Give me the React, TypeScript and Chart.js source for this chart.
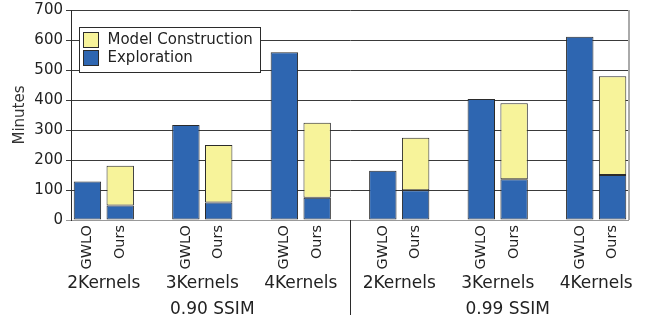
import { useEffect, useRef } from 'react';
import { Chart, registerables } from 'chart.js';

Chart.register(...registerables);

const FONT = "'DejaVu Sans', sans-serif";

// Minutes spent per configuration
const kernelGroups = ['2Kernels', '3Kernels', '4Kernels'];
const ssimLevels = ['0.90 SSIM', '0.99 SSIM'];
const methods = ['GWLO', 'Ours'];
const gwloExploration = [128, 317, 559, 164, 403, 611];
const oursExploration = [48, 58, 74, 99, 136, 150];
const oursModelConstruction = [133, 192, 250, 175, 253, 329];
const yTickValues = [0, 100, 200, 300, 400, 500, 600, 700];

const BLUE = '#2e66b1';
const YELLOW = '#f7f39a';
const EDGE = '#2b2b2b';

// One slot per bar, plus an empty slot between neighbouring kernel groups
const labels: string[] = [];
const explorationData: (number | null)[] = [];
const modelData: (number | null)[] = [];
const groupCount = ssimLevels.length * kernelGroups.length;
for (let g = 0; g < groupCount; g++) {
  labels.push(methods[0], methods[1]);
  explorationData.push(gwloExploration[g], oursExploration[g]);
  modelData.push(null, oursModelConstruction[g]);
  if (g < groupCount - 1) {
    labels.push('');
    explorationData.push(null);
    modelData.push(null);
  }
}

const decorations = {
  id: 'decorations',
  afterDraw(chart: any) {
    const ctx: CanvasRenderingContext2D = chart.ctx;
    const xs = chart.scales.x;
    const { left, right, top, bottom } = chart.chartArea;
    ctx.save();

    // right frame edge
    ctx.strokeStyle = '#aaaaaa';
    ctx.lineWidth = 2;
    ctx.beginPath();
    ctx.moveTo(right, top);
    ctx.lineTo(right, bottom);
    ctx.stroke();

    // kernel group labels
    ctx.fillStyle = '#222';
    ctx.font = `17px ${FONT}`;
    ctx.textAlign = 'center';
    ctx.textBaseline = 'middle';
    for (let g = 0; g < groupCount; g++) {
      const i = g * 3;
      const cx = (xs.getPixelForValue(i) + xs.getPixelForValue(i + 1)) / 2;
      ctx.fillText(kernelGroups[g % kernelGroups.length], cx, 284);
    }

    // SSIM level labels
    for (let s = 0; s < ssimLevels.length; s++) {
      const mid = (s * kernelGroups.length + 1) * 3;
      const cx = (xs.getPixelForValue(mid) + xs.getPixelForValue(mid + 1)) / 2 + 10;
      ctx.fillText(ssimLevels[s], cx, 310);
    }

    // separator between SSIM levels
    const sepIndex = kernelGroups.length * 3 - 1;
    const sx = Math.round(xs.getPixelForValue(sepIndex)) + 0.5;
    ctx.strokeStyle = EDGE;
    ctx.lineWidth = 1;
    ctx.beginPath();
    ctx.moveTo(sx, bottom);
    ctx.lineTo(sx, 315);
    ctx.stroke();

    // legend box
    const items = [...chart.data.datasets].reverse();
    const bx = left + 8.5;
    const by = top + 17.5;
    ctx.fillStyle = '#ffffff';
    ctx.fillRect(bx, by, 181, 45);
    ctx.strokeStyle = EDGE;
    ctx.strokeRect(bx, by, 181, 45);
    ctx.font = `15px ${FONT}`;
    ctx.textAlign = 'left';
    items.forEach((ds: any, k: number) => {
      const sy = by + 5 + k * 18;
      ctx.fillStyle = ds.backgroundColor;
      ctx.fillRect(bx + 4, sy, 15, 15);
      ctx.strokeStyle = EDGE;
      ctx.strokeRect(bx + 4, sy, 15, 15);
      ctx.fillStyle = '#222';
      ctx.fillText(ds.label, bx + 28, sy + 8);
    });

    ctx.restore();
  },
};

export default function App() {
  const canvasRef = useRef<HTMLCanvasElement | null>(null);

  useEffect(() => {
    const canvas = canvasRef.current;
    if (!canvas) return;
    const chart = new Chart(canvas, {
      type: 'bar',
      data: {
        labels,
        datasets: [
          {
            label: 'Exploration',
            data: explorationData,
            backgroundColor: BLUE,
            borderColor: EDGE,
            borderWidth: 1,
          },
          {
            label: 'Model Construction',
            data: modelData,
            backgroundColor: YELLOW,
            borderColor: EDGE,
            borderWidth: 1,
          },
        ],
      },
      options: {
        responsive: false,
        animation: false,
        devicePixelRatio: 1,
        datasets: {
          bar: {
            categoryPercentage: 1,
            barPercentage: 0.835,
            borderSkipped: false,
          },
        },
        layout: { padding: { left: 0, right: 23, top: 10, bottom: 0 } },
        plugins: {
          legend: { display: false },
          tooltip: { enabled: false },
        },
        scales: {
          x: {
            stacked: true,
            offset: true,
            grid: { display: false, drawTicks: false },
            border: { display: false },
            ticks: {
              autoSkip: false,
              minRotation: 90,
              maxRotation: 90,
              padding: 5,
              color: '#222',
              font: { family: FONT, size: 14.5 },
            },
            afterFit(scale: any) {
              scale.height = 102;
              scale.paddingLeft = 0;
              scale.paddingRight = 0;
            },
          },
          y: {
            stacked: true,
            min: 0,
            max: 700,
            afterBuildTicks(scale: any) {
              scale.ticks = yTickValues.map((v) => ({ value: v }));
            },
            grid: {
              color: (c: any) => (c.tick && c.tick.value === 0 ? '#999999' : '#3a3a3a'),
              lineWidth: 1,
              tickLength: 5,
            },
            border: { display: true, color: EDGE, width: 1 },
            ticks: {
              padding: 3,
              color: '#222',
              font: { family: FONT, size: 15 },
            },
            title: {
              display: true,
              text: 'Minutes',
              color: '#333',
              padding: { top: 11, bottom: 0 },
              font: { family: FONT, size: 15 },
            },
            afterFit(scale: any) {
              scale.width = 71;
              scale.paddingTop = 0;
              scale.paddingBottom = 0;
            },
          },
        },
      },
      plugins: [decorations],
    });
    return () => chart.destroy();
  }, []);

  return (
    <div style={{ position: 'absolute', left: 0, top: 0, width: 652, height: 322, background: '#fff' }}>
      <canvas ref={canvasRef} width={652} height={322} />
    </div>
  );
}
